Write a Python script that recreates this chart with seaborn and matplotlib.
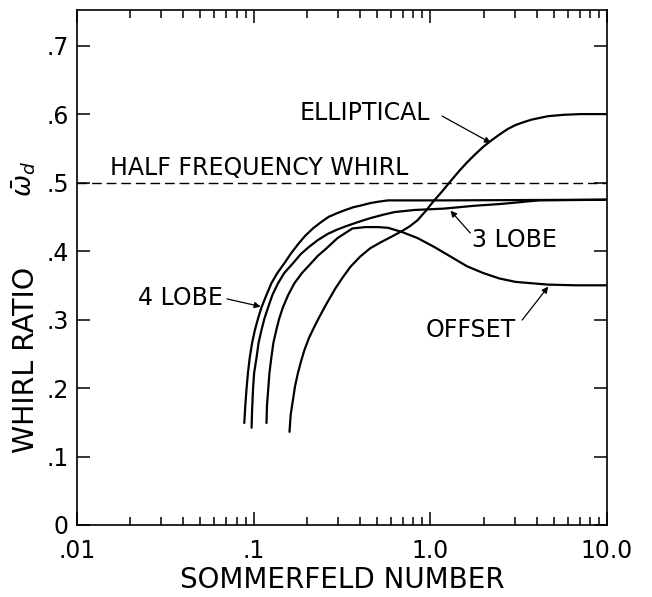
import matplotlib
matplotlib.use("Agg")
import matplotlib.pyplot as plt
from matplotlib.ticker import FixedLocator, FixedFormatter, LogLocator, NullFormatter, NullLocator
import pandas as pd
import seaborn as sns

# Sommerfeld number (S) and whirl ratio for each bearing geometry
lobe4_s = [0.0885, 0.0897, 0.0910, 0.0928, 0.0951, 0.0980, 0.1017, 0.1060, 0.1108,
           0.1182, 0.1260, 0.1362, 0.1490, 0.1631, 0.1784, 0.1952, 0.2164, 0.2399,
           0.2659, 0.2947, 0.3307, 0.3666, 0.4115, 0.4562, 0.5057, 0.5751, 0.7156,
           1.195, 10.0]
lobe4_w = [0.149, 0.175, 0.197, 0.222, 0.245, 0.266, 0.285, 0.302, 0.318,
           0.336, 0.353, 0.368, 0.382, 0.397, 0.410, 0.422, 0.433, 0.442,
           0.450, 0.455, 0.460, 0.464, 0.467, 0.470, 0.472, 0.474, 0.474,
           0.474, 0.475]

lobe3_s = [0.0973, 0.0980, 0.0991, 0.1006, 0.1039, 0.1066, 0.1108, 0.1152, 0.1208,
           0.1277, 0.1374, 0.1490, 0.1667, 0.1854, 0.2055, 0.2307, 0.2624, 0.2947,
           0.3307, 0.3861, 0.4562, 0.5393, 0.6294, 0.8139, 1.195, 1.750, 2.564,
           4.105, 10.0]
lobe3_w = [0.142, 0.168, 0.197, 0.222, 0.245, 0.266, 0.285, 0.302, 0.318,
           0.336, 0.353, 0.368, 0.382, 0.396, 0.406, 0.416, 0.425, 0.431,
           0.436, 0.442, 0.448, 0.453, 0.457, 0.460, 0.462, 0.466, 0.469,
           0.474, 0.475]

offset_s = [0.1182, 0.1190, 0.1208, 0.1228, 0.1260, 0.1293, 0.1344, 0.1397, 0.1465,
            0.1569, 0.1701, 0.1878, 0.2109, 0.2307, 0.2558, 0.2985, 0.3620, 0.4279,
            0.5057, 0.5751, 0.6887, 0.8462, 1.052, 1.301, 1.607, 1.988, 2.458,
            3.036, 3.754, 4.644, 6.658, 10.0]
offset_w = [0.149, 0.175, 0.197, 0.222, 0.245, 0.266, 0.285, 0.302, 0.318,
            0.336, 0.353, 0.368, 0.382, 0.393, 0.403, 0.419, 0.433, 0.435,
            0.435, 0.434, 0.428, 0.419, 0.406, 0.392, 0.378, 0.368, 0.360,
            0.355, 0.353, 0.351, 0.350, 0.350]

ellip_s = [0.1595, 0.1620, 0.1667, 0.1716, 0.1777, 0.1854, 0.1935, 0.2055, 0.2200,
           0.2368, 0.2558, 0.2909, 0.3183, 0.3528, 0.4012, 0.4562, 0.5256, 0.6031,
           0.6887, 0.7632, 0.8462, 0.9378, 1.052, 1.165, 1.301, 1.446, 1.607,
           1.773, 1.988, 2.200, 2.458, 2.732, 3.036, 3.349, 3.754, 4.644, 5.713,
           7.094, 10.0]
ellip_w = [0.136, 0.161, 0.182, 0.203, 0.221, 0.239, 0.255, 0.273, 0.289,
           0.305, 0.321, 0.346, 0.361, 0.377, 0.392, 0.404, 0.413, 0.421,
           0.429, 0.436, 0.445, 0.458, 0.474, 0.487, 0.502, 0.516, 0.529,
           0.540, 0.552, 0.561, 0.570, 0.578, 0.584, 0.588, 0.592, 0.597, 0.599,
           0.600, 0.600]

half_freq = 0.5

x_ticks = [0.01, 0.1, 1.0, 10.0]
x_labels = [".01", ".1", "1.0", "10.0"]
y_ticks = [0.0, 0.1, 0.2, 0.3, 0.4, 0.5, 0.6, 0.7]
y_labels = ["0", ".1", ".2", ".3", ".4", ".5", ".6", ".7"]

sns.set_theme(style="ticks")
plt.rcParams["font.family"] = ["DejaVu Sans"]
plt.rcParams["mathtext.fontset"] = "dejavusans"

fig = plt.figure(figsize=(6.52, 5.97), dpi=100)
ax = fig.add_axes([77 / 652, 1 - 525 / 597, 530 / 652, 515 / 597])
ax.set_facecolor("white")
fig.patch.set_facecolor("white")

curves = [(lobe4_s, lobe4_w), (lobe3_s, lobe3_w), (offset_s, offset_w), (ellip_s, ellip_w)]
for s, w in curves:
    df = pd.DataFrame({"S": s, "W": w})
    sns.lineplot(data=df, x="S", y="W", ax=ax, color="black", linewidth=1.6,
                 sort=False, estimator=None)

ax.axhline(half_freq, color="black", linewidth=1.0, linestyle=(0, (7, 3.5)))

ax.set_xscale("log")
ax.set_xlim(0.01, 10.0)
ax.set_ylim(0.0, 0.752)

ax.xaxis.set_major_locator(FixedLocator(x_ticks))
ax.xaxis.set_major_formatter(FixedFormatter(x_labels))
ax.xaxis.set_minor_locator(LogLocator(base=10, subs=range(2, 10)))
ax.xaxis.set_minor_formatter(NullFormatter())
ax.yaxis.set_major_locator(FixedLocator(y_ticks))
ax.yaxis.set_major_formatter(FixedFormatter(y_labels))
ax.yaxis.set_minor_locator(NullLocator())

ax.tick_params(axis="both", which="major", direction="in", length=9.5, width=1.1,
               top=True, right=True, color="black", labelcolor="black", labelsize=17)
ax.tick_params(axis="both", which="minor", direction="in", length=5.5, width=1.1,
               top=True, right=True, color="black")
ax.tick_params(axis="x", which="major", pad=10)
ax.tick_params(axis="y", which="major", pad=6)
for sp in ax.spines.values():
    sp.set_visible(True)
    sp.set_color("black")
    sp.set_linewidth(1.2)

ax.set_xlabel("SOMMERFELD NUMBER", fontsize=20, color="black", labelpad=2)
ax.set_ylabel("")
ax.text(-0.097, 0.32, "WHIRL RATIO", transform=ax.transAxes, rotation=90,
        ha="center", va="center", fontsize=20.5, color="black")
ax.text(-0.100, 0.672, r"$\bar{\omega}_d$", transform=ax.transAxes, rotation=90,
        ha="center", va="center", fontsize=19, color="black")

# curve labels
lab = dict(transform=ax.transAxes, ha="center", va="center", fontsize=17, color="black")
ax.text(0.343, 0.693, "HALF FREQUENCY WHIRL", **lab)
ax.text(0.544, 0.800, "ELLIPTICAL", **lab)
ax.text(0.825, 0.553, "3 LOBE", **lab)
ax.text(0.196, 0.441, "4 LOBE", **lab)
ax.text(0.743, 0.379, "OFFSET", **lab)

arrow = dict(arrowstyle="-|>", color="black", lw=0.9, mutation_scale=9,
             shrinkA=0, shrinkB=0)
ax.annotate("", xy=(2.2, 0.558), xycoords="data", xytext=(0.689, 0.794),
            textcoords="axes fraction", arrowprops=arrow)
ax.annotate("", xy=(1.3, 0.459), xycoords="data", xytext=(0.742, 0.567),
            textcoords="axes fraction", arrowprops=arrow)
ax.annotate("", xy=(0.1095, 0.319), xycoords="data", xytext=(0.283, 0.439),
            textcoords="axes fraction", arrowprops=arrow)
ax.annotate("", xy=(4.644, 0.348), xycoords="data", xytext=(0.840, 0.398),
            textcoords="axes fraction", arrowprops=arrow)

fig.savefig("out.png", dpi=100, facecolor="white")
